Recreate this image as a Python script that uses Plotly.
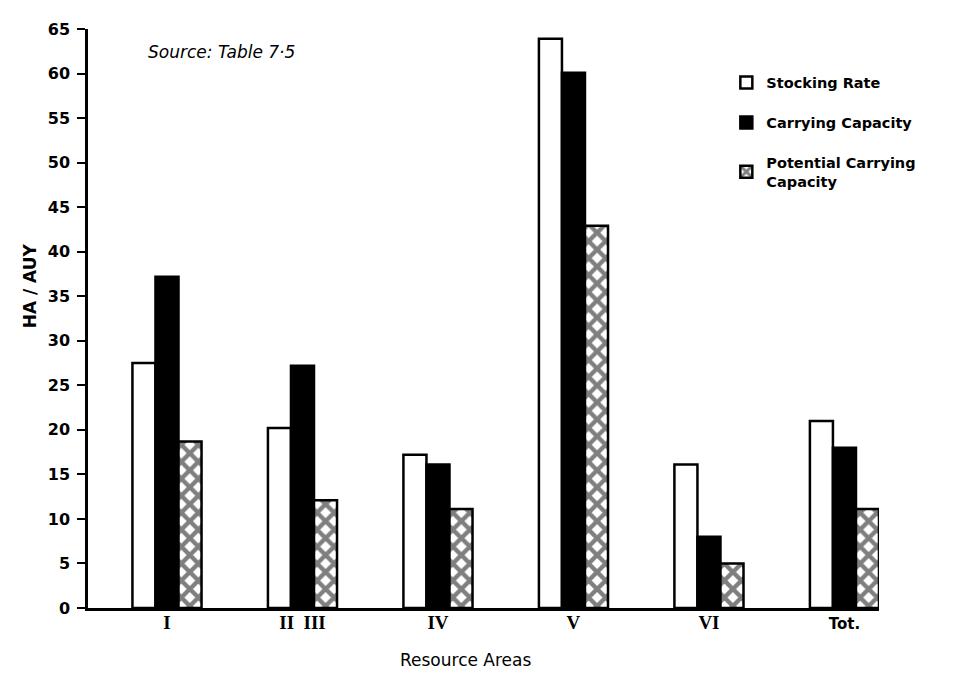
import plotly.graph_objects as go

categories = ["I", "II  III", "IV", "V", "VI", "Tot."]
stocking_rate = [27.5, 20.2, 17.2, 63.9, 16.1, 21.0]
carrying_capacity = [37.2, 27.2, 16.1, 60.1, 8.0, 18.0]
potential_capacity = [18.7, 12.1, 11.1, 42.9, 5.0, 11.1]
y_ticks = list(range(0, 70, 5))

serif = "Liberation Serif"
tick_text = []
for c in categories:
    if c.startswith("Tot"):
        tick_text.append(c)
    else:
        tick_text.append(f"<span style='font-family:{serif};font-weight:bold;font-size:19px'>{c}</span>")

fig = go.Figure()
fig.add_trace(go.Bar(
    x=categories, y=stocking_rate, name="Stocking Rate", legendgroup="a",
    marker=dict(color="white", line=dict(color="black", width=2.5)),
))
fig.add_trace(go.Bar(
    x=categories, y=carrying_capacity, name="Carrying Capacity", legendgroup="b",
    marker=dict(color="black", line=dict(color="black", width=2.5)),
))
fig.add_trace(go.Bar(
    x=categories, y=potential_capacity, name="Potential Carrying<br>Capacity",
    legendgroup="c",
    marker=dict(color="white", line=dict(color="black", width=2.5),
                pattern=dict(shape="x", fgcolor="black", bgcolor="white",
                             size=12, solidity=0.6)),
))

font_main = "DejaVu Sans"
fig.update_layout(
    width=951, height=675,
    margin=dict(l=80, r=80, t=14, b=75),
    paper_bgcolor="white", plot_bgcolor="white",
    barmode="group", bargap=0.49, bargroupgap=0,
    font=dict(family=font_main, color="black", size=15),
    showlegend=True,
    legend=dict(
        x=0.807, y=0.935, xanchor="left", yanchor="top",
        font=dict(size=14.5, family=font_main, weight="bold"),
        bgcolor="rgba(0,0,0,0)", tracegroupgap=18,
        traceorder="grouped",
    ),
    xaxis=dict(
        type="category", range=[-0.583, 5.255],
        tickmode="array", tickvals=categories, ticktext=tick_text,
        showline=True, linecolor="black", linewidth=2.5,
        ticks="", showgrid=False, zeroline=False,
        tickfont=dict(size=15, family=font_main, weight="bold"),
    ),
    yaxis=dict(
        range=[0, 65], tickvals=y_ticks,
        showline=True, linecolor="black", linewidth=2.5,
        ticks="outside", ticklen=8, tickwidth=2, tickcolor="black",
        ticklabelstandoff=4,
        showgrid=False, zeroline=False,
        tickfont=dict(size=16, family=font_main, weight="bold"),
    ),
    annotations=[
        dict(text="<i>Source: Table 7·5</i>", xref="paper", yref="paper",
             x=0.073, y=0.96, xanchor="left", yanchor="middle",
             showarrow=False, font=dict(size=17, family=font_main)),
        dict(text="HA / AUY", xref="paper", yref="paper",
             x=-0.073, y=0.556, textangle=-90, xanchor="center", yanchor="middle",
             showarrow=False, font=dict(size=17, family=font_main, weight="bold")),
        dict(text="Resource Areas", xref="paper", yref="paper",
             x=0.477, y=-0.089, xanchor="center", yanchor="middle",
             showarrow=False, font=dict(size=17, family=font_main)),
    ],
)

fig.write_html("out.html")
